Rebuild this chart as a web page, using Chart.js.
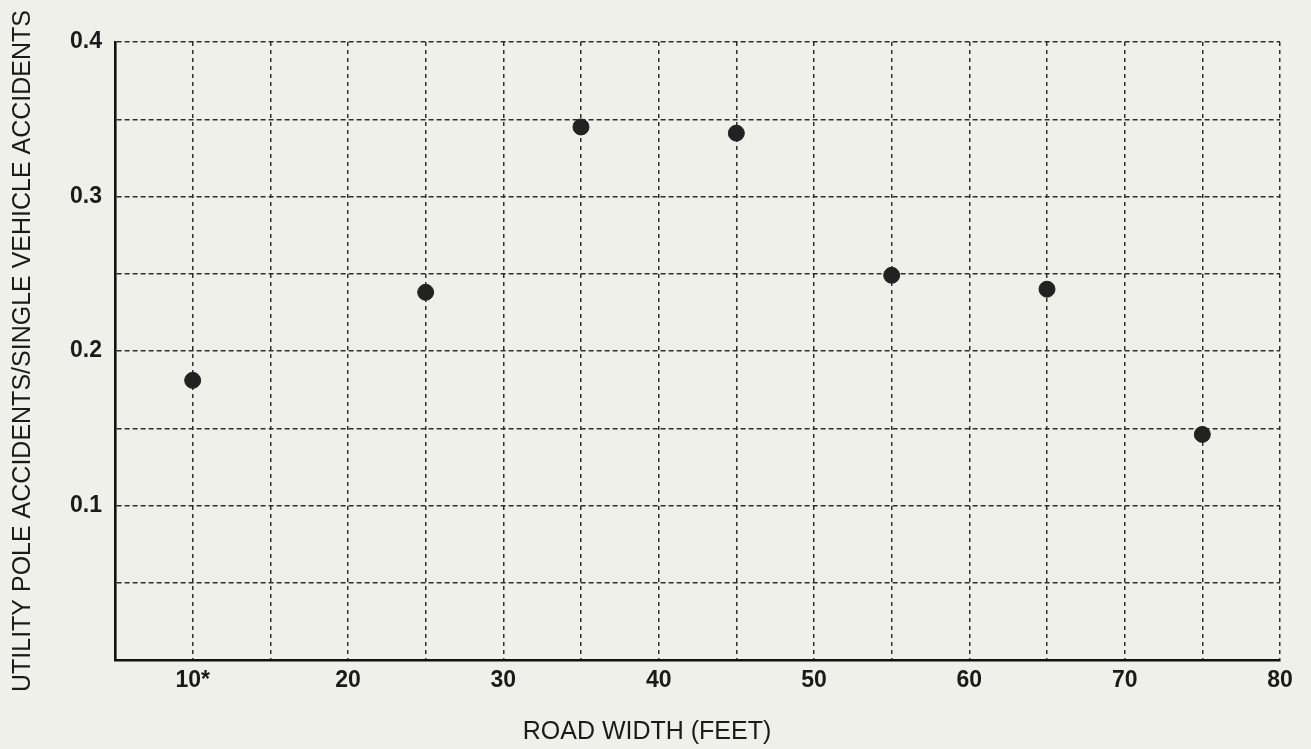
<!DOCTYPE html>
<html>
<head>
<meta charset="utf-8">
<script src="https://cdn.jsdelivr.net/npm/chart.js@4/dist/chart.umd.min.js"></script>
<style>
  html, body { margin: 0; padding: 0; background: #f0f0ea; }
  #wrap { width: 1311px; height: 749px; position: relative; }
</style>
</head>
<body>
<div id="wrap"><canvas id="c"></canvas></div>
<script>
// ---- data ----
const roadWidth = [10, 25, 35, 45, 55, 65, 75];
const poleRatio = [0.181, 0.238, 0.345, 0.341, 0.249, 0.240, 0.146];
const xTickValues = [10, 20, 30, 40, 50, 60, 70, 80];
const xTickLabels = ['10*', '20', '30', '40', '50', '60', '70', '80'];
const yTickValues = [0.1, 0.2, 0.3, 0.4];
const yTickLabels = ['0.1', '0.2', '0.3', '0.4'];
const xTitle = 'ROAD WIDTH (FEET)';
const yTitle = 'UTILITY POLE ACCIDENTS/SINGLE VEHICLE ACCIDENTS';

const points = roadWidth.map((x, i) => ({ x: x, y: poleRatio[i] }));
const FONT = "'Liberation Sans', Arial, Helvetica, sans-serif";
const INK = '#1a1a1a';
const GRID = '#2e2e2e';

new Chart(document.getElementById('c'), {
  type: 'scatter',
  data: {
    datasets: [{
      data: points,
      backgroundColor: '#222222',
      borderColor: '#222222',
      pointRadius: 8,
      pointHoverRadius: 8
    }]
  },
  options: {
    responsive: true,
    maintainAspectRatio: false,
    animation: false,
    events: [],
    layout: { padding: { top: 42, right: 31, bottom: 0, left: 14 } },
    plugins: {
      legend: { display: false },
      tooltip: { enabled: false },
      title: {
        display: true,
        text: xTitle,
        position: 'bottom',
        color: INK,
        font: { family: FONT, size: 25, weight: 'normal', lineHeight: 1.2 },
        padding: { top: 0, bottom: 2 }
      }
    },
    scales: {
      x: {
        type: 'linear',
        min: 5,
        max: 80,
        afterFit: (s) => { s.height = 57; },
        ticks: {
          stepSize: 5,
          autoSkip: false,
          maxRotation: 0,
          padding: 7,
          color: INK,
          font: { family: FONT, size: 23, weight: 'bold' },
          callback: (v) => {
            const i = xTickValues.findIndex(t => Math.abs(t - v) < 1e-6);
            return i >= 0 ? xTickLabels[i] : '';
          }
        },
        grid: { color: GRID, lineWidth: 1.5, drawTicks: false },
        border: { display: true, color: '#111111', width: 2.6, dash: [4, 4] }
      },
      y: {
        type: 'linear',
        min: 0,
        max: 0.4,
        afterFit: (s) => { s.width = 101; },
        ticks: {
          stepSize: 0.05,
          autoSkip: false,
          padding: 13,
          color: INK,
          font: { family: FONT, size: 23, weight: 'bold' },
          callback: (v) => {
            const i = yTickValues.findIndex(t => Math.abs(t - v) < 1e-6);
            return i >= 0 ? yTickLabels[i] : '';
          }
        },
        grid: { color: GRID, lineWidth: 1.5, drawTicks: false },
        border: { display: true, color: '#111111', width: 2.6, dash: [5, 3] },
        title: {
          display: true,
          text: yTitle,
          color: INK,
          font: { family: FONT, size: 25, weight: 'normal', lineHeight: 1 },
          padding: { top: -3, bottom: 0 }
        }
      }
    }
  }
});
</script>
</body>
</html>
